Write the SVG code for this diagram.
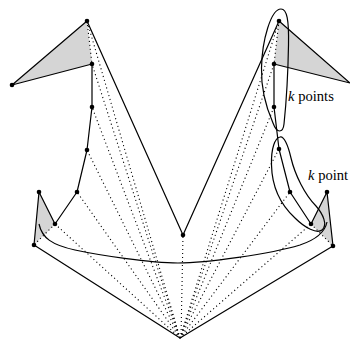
<svg xmlns="http://www.w3.org/2000/svg" width="350" height="340" viewBox="0 0 350 340">
<style>
.fill{fill:#d5d5d5;stroke:none}
.dot{stroke:#000;stroke-width:1.1;stroke-dasharray:1.1 2.9;fill:none}
.edge{stroke:#000;stroke-width:1.2;fill:none;stroke-linejoin:round}
.curve{stroke:#000;stroke-width:1.2;fill:none}
.pt{fill:#000}
.lbl{font-family:"Liberation Serif","DejaVu Serif",serif;font-size:14.6px;fill:#000}
</style>
<rect width="350" height="340" fill="#fff"/>
<g id="shading">
<polygon class="fill" points="12,85 87,21 92,64"/>
<polygon class="fill" points="350,83 279,21 274,64"/>
<polygon class="fill" points="39,192 34,245 55,224"/>
<polygon class="fill" points="327,192 333,246 311,224"/>
</g>
<g id="connectors">
<g id="dotted">
<line class="dot" x1="180" y1="338" x2="87" y2="21"/>
<line class="dot" x1="180" y1="338" x2="92" y2="64"/>
<line class="dot" x1="180" y1="338" x2="92" y2="107"/>
<line class="dot" x1="180" y1="338" x2="87" y2="150"/>
<line class="dot" x1="180" y1="338" x2="77" y2="192"/>
<line class="dot" x1="180" y1="338" x2="55" y2="224"/>
<line class="dot" x1="181" y1="338" x2="183" y2="235"/>
<line class="dot" x1="180" y1="338" x2="279" y2="21"/>
<line class="dot" x1="180" y1="338" x2="274" y2="64"/>
<line class="dot" x1="180" y1="338" x2="274" y2="107"/>
<line class="dot" x1="180" y1="338" x2="279" y2="149"/>
<line class="dot" x1="180" y1="338" x2="290" y2="192"/>
<line class="dot" x1="180" y1="338" x2="311" y2="224"/>
<line class="dot" x1="87" y1="21" x2="92" y2="64"/>
<line class="dot" x1="279" y1="21" x2="274" y2="64"/>
<line class="dot" x1="55" y1="224" x2="34" y2="245"/>
<line class="dot" x1="311" y1="224" x2="333" y2="246"/>
</g>
<g id="solid">
<polyline class="edge" points="92,64 12,85 87,21 183,235 279,21 350,83 274,64"/>
<polyline class="edge" points="92,64 92,107 87,150 77,192 55,224 39,192 34,245 180,338 333,246 327,192 311,224 290,192 279,149 274,107 274,64"/>
</g>
</g>
<g id="groups">
<path class="curve" d="M281,9 C287,9 289,20 288.5,45 C288,75 286,105 284,124 C283,133 277,134 273,123 C265,105 261,88 261.5,68 C262,40 271,9 281,9 Z"/>
<path class="curve" d="M280,137 C284,136 288,145 291,158 C295,175 305,195 316,206 C323,214 328,225 322,230 C317,234 305,228 295,218 C282,206 272,190 271.5,165 C271,148 275,138 280,137 Z"/>
<path class="curve" d="M39,224 C42,238 52,245 75,250 C98,255 150,263 178,263 C206,263 270,254 300,245 C315,240 325,232 327,222"/>
</g>
<g id="n-ptop"><circle class="pt" cx="87" cy="21" r="2.3"/></g>
<g id="n-pleft"><circle class="pt" cx="12" cy="85" r="2.3"/></g>
<g id="n-p2"><circle class="pt" cx="92" cy="64" r="2.3"/></g>
<g id="n-p3"><circle class="pt" cx="92" cy="107" r="2.3"/></g>
<g id="n-p4"><circle class="pt" cx="87" cy="150" r="2.3"/></g>
<g id="n-p5"><circle class="pt" cx="77" cy="192" r="2.3"/></g>
<g id="n-p6"><circle class="pt" cx="55" cy="224" r="2.3"/></g>
<g id="n-p7"><circle class="pt" cx="39" cy="192" r="2.3"/></g>
<g id="n-p8"><circle class="pt" cx="34" cy="245" r="2.3"/></g>
<g id="n-center"><circle class="pt" cx="183" cy="235" r="2.3"/></g>
<g id="n-qtop"><circle class="pt" cx="279" cy="21" r="2.3"/></g>
<g id="n-q2"><circle class="pt" cx="274" cy="64" r="2.3"/></g>
<g id="n-q3"><circle class="pt" cx="274" cy="107" r="2.3"/></g>
<g id="n-q4"><circle class="pt" cx="279" cy="149" r="2.3"/></g>
<g id="n-q5"><circle class="pt" cx="290" cy="192" r="2.3"/></g>
<g id="n-q6"><circle class="pt" cx="311" cy="224" r="2.3"/></g>
<g id="n-q7"><circle class="pt" cx="327" cy="192" r="2.3"/></g>
<g id="n-q8"><circle class="pt" cx="333" cy="246" r="2.3"/></g>
<g id="labels">
<text class="lbl" x="288" y="101"><tspan font-style="italic">k</tspan> points</text>
<text class="lbl" x="308" y="180"><tspan font-style="italic">k</tspan> point</text>
</g>
</svg>
